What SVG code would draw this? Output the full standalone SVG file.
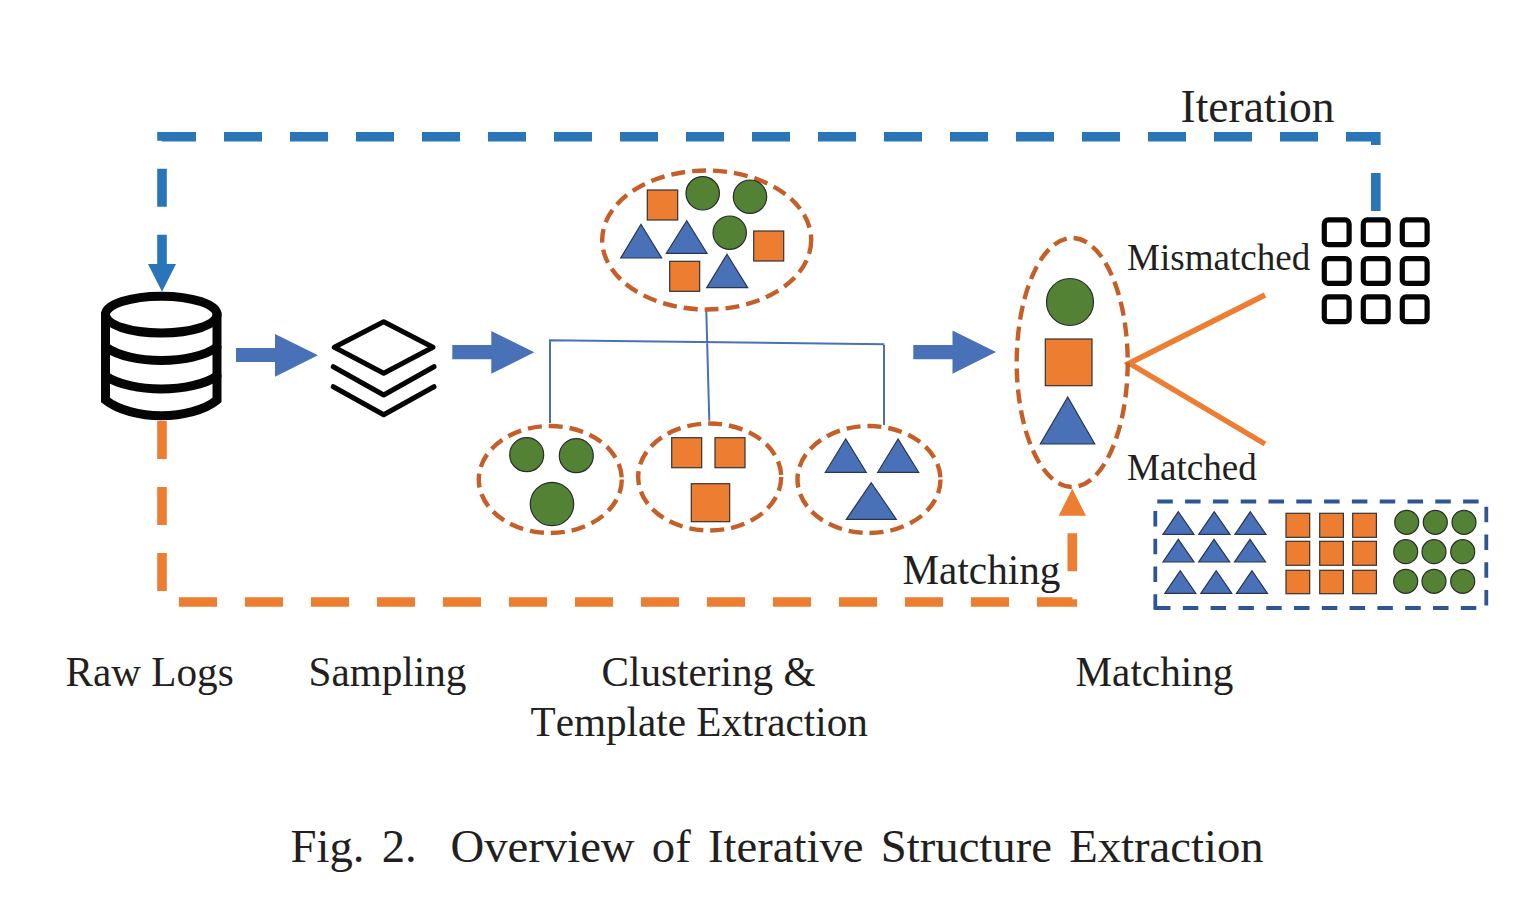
<svg xmlns="http://www.w3.org/2000/svg" width="1536" height="911" viewBox="0 0 1536 911">
<style>
text{font-family:"Liberation Serif","Times New Roman",serif;fill:#231f20;font-kerning:none}
.l{font-size:41.2px}.m{font-size:37.1px}.i{font-size:45.5px}.c{font-size:46.7px;word-spacing:5.6px}
.g{fill:#548235;stroke:#2b2b2b;stroke-width:1.2}
.o{fill:#ED7D31;stroke:#333;stroke-width:1.2}
.b{fill:#4971B8;stroke:#2a3550;stroke-width:1.2}
.e{fill:none;stroke:#C55F27;stroke-width:4.4;stroke-dasharray:14 7}
.a{fill:#4971B8}
.t{fill:none;stroke:#4971B8;stroke-width:2}
.d{fill:none;stroke-width:9.6;stroke-dasharray:38 28}
.k{fill:none;stroke:#050505;stroke-width:5;stroke-linejoin:round;stroke-linecap:round}
.s{fill:none;stroke:#050505;stroke-width:9;stroke-linecap:round}
.q{fill:none;stroke:#050505;stroke-width:5.2}
</style>
<g id="connectors">
<path class="d" stroke="#2A75B7" d="M1375.8,211V136.8H162V264"/>
<polygon fill="#2A75B7" points="148,264 176,264 162,291.7"/>
<path class="d" stroke="#ED7D31" d="M162,421V602H1072.3V532"/>
<polygon fill="#ED7D31" points="1072.3,488.7 1058.7,515.7 1086,515.7"/>
<polygon class="a" points="236,348 275,348 275,334 318,355.3 275,376.7 275,362 236,362"/>
<polygon class="a" points="452.3,345 491.3,345 491.3,331 534.3,352.3 491.3,373.7 491.3,359.3 452.3,359.3"/>
<polygon class="a" points="913.3,345 952.5,345 952.5,330.5 996,352 952.5,373.7 952.5,359.3 913.3,359.3"/>
<path class="t" d="M550,423V340.3L884.3,344.3M884,345V425M706.3,310.7L709.3,420.7"/>
<path d="M1265,295L1129.3,363.3L1265,444" fill="none" stroke="#ED7D31" stroke-width="5.5"/>
</g>
<g id="raw-logs">
<ellipse class="s" cx="161.3" cy="314.6" rx="55.8" ry="18.4"/>
<path class="s" d="M105.5,314V400C118,410 140,415.7 161.3,415.7S205,410 217,400V314"/>
<path class="s" d="M105.5,347C118,356 140,360.5 161.3,360.5S205,356 217,347M105.5,376C118,384.5 140,389 161.3,389S205,384.5 217,376"/>
</g>
<g id="sampling">
<path class="k" d="M383.7,321.7L433,347.3L383.7,373.3L334.3,347.3Z"/>
<path class="k" d="M333.3,366.7L383.7,395L434,366.7M333.3,386.7L383.7,414.7L434,386.7"/>
</g>
<g id="mixed-cluster">
<ellipse class="e" cx="706.7" cy="240" rx="104.5" ry="69.5"/>
<rect class="o" x="647.3" y="190" width="30.4" height="30"/>
<circle class="g" cx="702.7" cy="193.3" r="16.7"/>
<circle class="g" cx="750" cy="196.7" r="16.7"/>
<circle class="g" cx="729.7" cy="232.7" r="16.7"/>
<polygon class="b" points="641,224.3 620.7,258 661.7,258"/>
<polygon class="b" points="686.7,220.7 666.3,253.3 707,253.3"/>
<rect class="o" x="753.7" y="231" width="30" height="30"/>
<rect class="o" x="669.7" y="261.3" width="30" height="30"/>
<polygon class="b" points="727,254.3 706.7,287.7 747.7,287.7"/>
</g>
<g id="circle-cluster">
<ellipse class="e" cx="550.3" cy="479.5" rx="71.5" ry="53.5"/>
<circle class="g" cx="526.7" cy="454.7" r="17"/>
<circle class="g" cx="576.3" cy="455.7" r="17"/>
<circle class="g" cx="552" cy="504" r="21.7"/>
</g>
<g id="square-cluster">
<ellipse class="e" cx="709.7" cy="477" rx="71.5" ry="53.5"/>
<rect class="o" x="671.7" y="437.7" width="30" height="30"/>
<rect class="o" x="715" y="437.7" width="30" height="30"/>
<rect class="o" x="691.3" y="483.7" width="38.4" height="38"/>
</g>
<g id="triangle-cluster">
<ellipse class="e" cx="869" cy="479.5" rx="71.5" ry="53.5"/>
<polygon class="b" points="845.7,439 825.3,472.3 866.3,472.3"/>
<polygon class="b" points="898,439 877.7,472.3 918.7,472.3"/>
<polygon class="b" points="871.3,482.7 846.3,519.3 896.3,519.3"/>
</g>
<g id="matching-cluster">
<ellipse class="e" cx="1072.2" cy="362.5" rx="55.5" ry="124.5"/>
<circle class="g" cx="1070" cy="302" r="23.5"/>
<rect class="o" x="1045.3" y="339" width="46.7" height="46.7"/>
<polygon class="b" points="1067.7,397 1040.3,444 1094.7,444"/>
</g>
<g id="mismatched">
<rect class="q" x="1324.3" y="219.9" width="24.8" height="24.8" rx="4"/>
<rect class="q" x="1363.3" y="219.9" width="24.8" height="24.8" rx="4"/>
<rect class="q" x="1402.3" y="219.9" width="24.8" height="24.8" rx="4"/>
<rect class="q" x="1324.3" y="258.6" width="24.8" height="24.8" rx="4"/>
<rect class="q" x="1363.3" y="258.6" width="24.8" height="24.8" rx="4"/>
<rect class="q" x="1402.3" y="258.6" width="24.8" height="24.8" rx="4"/>
<rect class="q" x="1324.3" y="296.9" width="24.8" height="24.8" rx="4"/>
<rect class="q" x="1363.3" y="296.9" width="24.8" height="24.8" rx="4"/>
<rect class="q" x="1402.3" y="296.9" width="24.8" height="24.8" rx="4"/>
</g>
<g id="matched">
<path d="M1157.3,501.5H1486.3M1486.3,506.7V606M1155,608H1487M1155.3,609.8V510" fill="none" stroke="#2F5597" stroke-width="3.8" stroke-dasharray="15.5 12.3"/>
<polygon class="b" points="1178.3,511.7 1163,534.3 1194,534.3"/>
<polygon class="b" points="1214.3,511.7 1198.7,534.3 1230,534.3"/>
<polygon class="b" points="1250.3,511.7 1235,534.3 1266,534.3"/>
<polygon class="b" points="1178.3,539.3 1163,562 1194,562"/>
<polygon class="b" points="1214,539.3 1198.7,562 1229.7,562"/>
<polygon class="b" points="1250,539.3 1234.5,562 1265.5,562"/>
<polygon class="b" points="1180.3,570.7 1164.8,593.3 1195.8,593.3"/>
<polygon class="b" points="1216.3,570.7 1200.8,593.3 1231.8,593.3"/>
<polygon class="b" points="1252,570.7 1236.5,593.3 1267.5,593.3"/>
<rect class="o" x="1286" y="513.3" width="23.7" height="24"/>
<rect class="o" x="1319.7" y="513.3" width="23.7" height="24"/>
<rect class="o" x="1352.7" y="513.3" width="23.7" height="24"/>
<rect class="o" x="1286" y="541.3" width="23.7" height="24"/>
<rect class="o" x="1319.7" y="541.3" width="23.7" height="24"/>
<rect class="o" x="1352.7" y="541.3" width="23.7" height="24"/>
<rect class="o" x="1286" y="570.3" width="23.7" height="23.4"/>
<rect class="o" x="1319.7" y="570.3" width="23.7" height="23.4"/>
<rect class="o" x="1352.7" y="570.3" width="23.7" height="23.4"/>
<circle class="g" cx="1406.7" cy="522.3" r="12"/>
<circle class="g" cx="1435.3" cy="522.3" r="12"/>
<circle class="g" cx="1464" cy="522.3" r="12"/>
<circle class="g" cx="1405.7" cy="551.7" r="12"/>
<circle class="g" cx="1434" cy="551.7" r="12"/>
<circle class="g" cx="1462.7" cy="551.7" r="12"/>
<circle class="g" cx="1405.7" cy="581.3" r="12"/>
<circle class="g" cx="1434" cy="581.3" r="12"/>
<circle class="g" cx="1462.7" cy="581.3" r="12"/>
</g>
<g id="labels">
<text class="i" x="1180.5" y="122">Iteration</text>
<text class="m" x="1127" y="270">Mismatched</text>
<text class="m" x="1127" y="479.5">Matched</text>
<text class="l" x="902.5" y="584">Matching</text>
<text class="l" x="65.5" y="686">Raw Logs</text>
<text class="l" x="308.5" y="686">Sampling</text>
<text class="l" x="601.5" y="686">Clustering &amp;</text>
<text class="l" x="530.5" y="736">Template Extraction</text>
<text class="l" x="1075.5" y="686">Matching</text>
<text class="c" x="290.5" y="862">Fig. 2.<tspan x="450.5">Overview of Iterative Structure Extraction</tspan></text>
</g>
</svg>
